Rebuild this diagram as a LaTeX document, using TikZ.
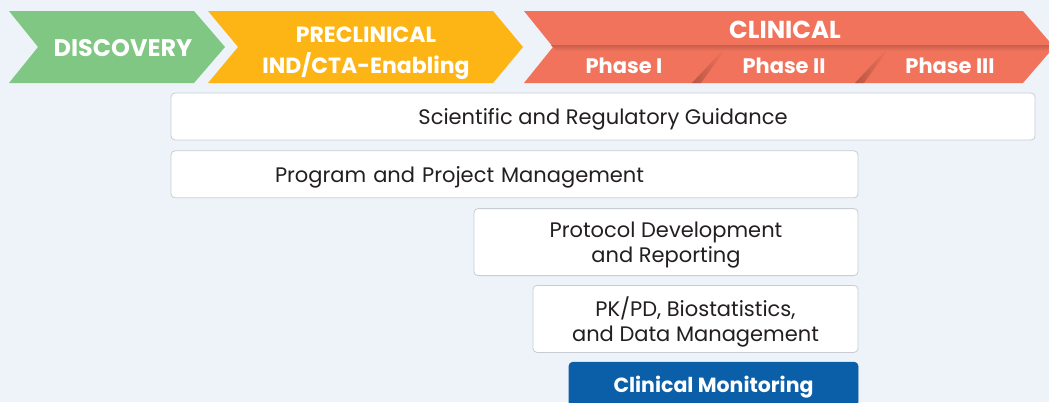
\documentclass[tikz,border=0pt]{standalone}
\usepackage{fontspec}
\setmainfont{Poppins}
\usetikzlibrary{positioning}

\definecolor{pagebg}{RGB}{238,243,250}
\definecolor{discgreen}{RGB}{128,199,131}
\definecolor{preclorange}{RGB}{253,181,21}
\definecolor{clinsalmon}{RGB}{242,115,92}
\definecolor{boxline}{RGB}{200,205,212}
\definecolor{boxtext}{RGB}{35,31,32}
\definecolor{monblue}{RGB}{11,94,168}

\begin{document}
\begin{tikzpicture}[
		x=1pt, y=-1pt,
		stage/.style={
			font=\bfseries\fontsize{24}{31}\selectfont,
			text=white,
			align=center,
			text depth=0pt,
		},
		phase/.style={
			font=\bfseries\fontsize{21}{24}\selectfont,
			text=white,
		},
		service/.style={
			draw=boxline,
			fill=white,
			line width=0.8pt,
			rounded corners=4pt,
			inner sep=0pt,
			align=center,
			text depth=0pt,
			text=boxtext,
			font=\fontsize{21}{25.5}\selectfont,
		},
	]
	\useasboundingbox [fill=pagebg] (0,0) rectangle (1049,402);
	\clip (0,0) rectangle (1049,402);

	% stage chevrons
	\fill [discgreen] (9,11) -- (194,11) -- (225,47) -- (194,83) -- (9,83) -- (38,47) -- cycle;
	\fill [preclorange] (208,11) -- (493,11) -- (523,47) -- (493,83) -- (208,83) -- (238,47) -- cycle;
	\fill [clinsalmon] (524,11) -- (1023,11) -- (1054,47) -- (1023,83) -- (524,83) -- (553,47) -- cycle;
	% shading between CLINICAL and the phases
	\shade [top color=clinsalmon!82!black, bottom color=clinsalmon] (551,45) -- (1052,45) -- (1047,51) -- (556,51) -- cycle;
	\shade [left color=clinsalmon!75!black, right color=clinsalmon] (692,83) -- (723,50) -- (725,50) -- (701,83) -- cycle;
	\shade [left color=clinsalmon!75!black, right color=clinsalmon] (855,83) -- (886,50) -- (888,50) -- (864,83) -- cycle;

	\node [stage] (disc) at (123,48) {DISCOVERY};
	\node [stage, font=\bfseries\fontsize{22}{31}\selectfont] (precl) at (366,50) {PRECLINICAL\\IND/CTA-Enabling};
	\node [stage, font=\bfseries\fontsize{24.5}{24}\selectfont] (clin) at (785,30) {CLINICAL};
	\node [phase] (ph1) at (624,66) {Phase I};
	\node [phase] (ph2) at (784,66) {Phase II};
	\node [phase] (ph3) at (950,66) {Phase III};

	% services
	\node [service, minimum width=864pt, minimum height=47pt] (sci) at (603,116.5) {Scientific and Regulatory Guidance};
	\node [service, minimum width=687pt, minimum height=47pt, inner xsep=104pt, text width=479pt, align=left,
		below=10pt of sci.south west, anchor=north west] (prog) {Program and Project Management};
	\node [service, minimum width=384pt, minimum height=67pt, below=10pt of prog.south east, anchor=north east]
		(proto) {Protocol Development\\and Reporting};
	\node [service, minimum width=325pt, minimum height=67pt, below=9pt of proto.south east, anchor=north east]
		(pkpd) {PK/PD, Biostatistics,\\and Data Management};
	\node [service, draw=monblue, fill=monblue, text=white, font=\bfseries\fontsize{20.5}{24}\selectfont,
		minimum width=289pt, minimum height=44pt, below=9pt of pkpd.south east, anchor=north east]
		(mon) {Clinical Monitoring};

\end{tikzpicture}
\end{document}
